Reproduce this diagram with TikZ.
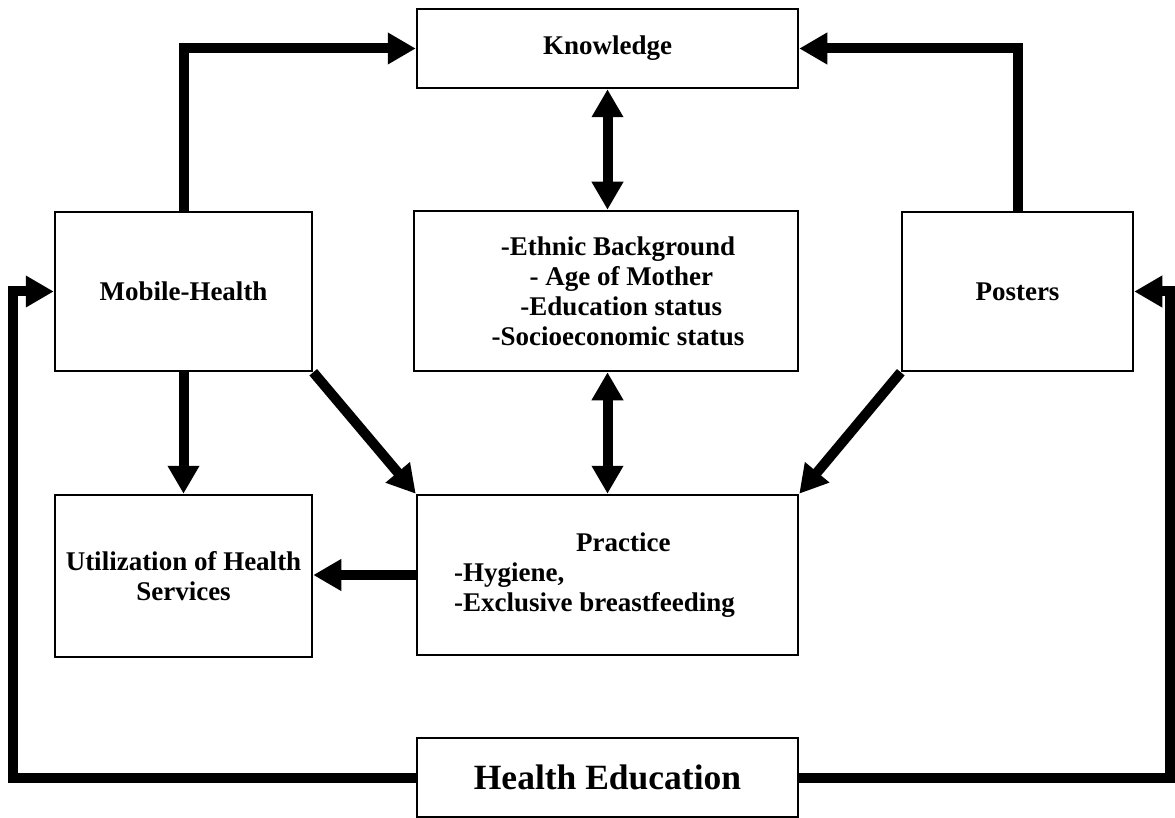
\documentclass[tikz,border=0pt]{standalone}
\usepackage{fontspec}
\setmainfont{Liberation Serif}
\usetikzlibrary{arrows.meta}
\tikzset{
  blk/.style={draw, line width=2.5pt, inner sep=0pt, font=\bfseries\fontsize{27}{30}\selectfont},
  link/.style={line width=10pt, -{Triangle[length=28pt,width=30pt]}},
  both/.style={line width=10pt, {Triangle[length=28pt,width=30pt]}-{Triangle[length=28pt,width=30pt]}}
}
\begin{document}
\begin{tikzpicture}[x=1pt, y=-1pt]
            \useasboundingbox[fill=white] (0,0) rectangle (1175,818);
            \node[blk, minimum width=381pt, minimum height=79pt] (know) at (607.5, 48.5) {Knowledge};
            \node[blk, minimum width=257pt, minimum height=159pt] (mob) at (183.5, 291.5) {Mobile-Health};
            \node[blk, minimum width=384pt, minimum height=160pt, align=center] (fact) at (606, 291)
                {\hspace*{24pt}-Ethnic Background\\\hspace*{24pt}\ - Age of Mother\\\hspace*{24pt}\ -Education status\\\hspace*{24pt}-Socioeconomic status};
            \node[blk, minimum width=231pt, minimum height=159pt] (post) at (1017.5, 291.5) {Posters};
            \node[blk, minimum width=257pt, minimum height=162pt, align=center] (util) at (183.5, 576)
                {Utilization of Health\\Services};
            \node[blk, minimum width=381pt, minimum height=160pt, align=left] (prac) at (607.5, 575)
                {\hspace*{122pt}Practice\\-Hygiene,\\-Exclusive breastfeeding\hspace*{26pt}};
            \node[blk, minimum width=381pt, minimum height=79pt, font=\bfseries\fontsize{35.5}{40}\selectfont] (hedu) at (607.5, 777.5) {Health Education};
            \coordinate (lcorner) at (13, 777.5);
            \coordinate (rcorner) at (1170, 777.5);
            % channels into knowledge
            \draw[link] (mob.north) |- (know.west);
            \draw[link] (post.north) |- (know.east);
            \draw[both] (know.south) -- (know.south |- fact.north);
            \draw[both] (prac.north |- fact.south) -- (prac.north);
            % towards practice and services
            \draw[link] (mob.south) -- (util.north);
            \draw[link] (mob.south east) -- (prac.north west);
            \draw[link] (post.south west) -- (prac.north east);
            \draw[link] (prac.west) -- (prac.west -| util.east);
            % health education loop
            \draw[link] (hedu.west) -- (lcorner) |- (mob.west);
            \draw[link] (hedu.east) -- (rcorner) |- (post.east);
\end{tikzpicture}
\end{document}
